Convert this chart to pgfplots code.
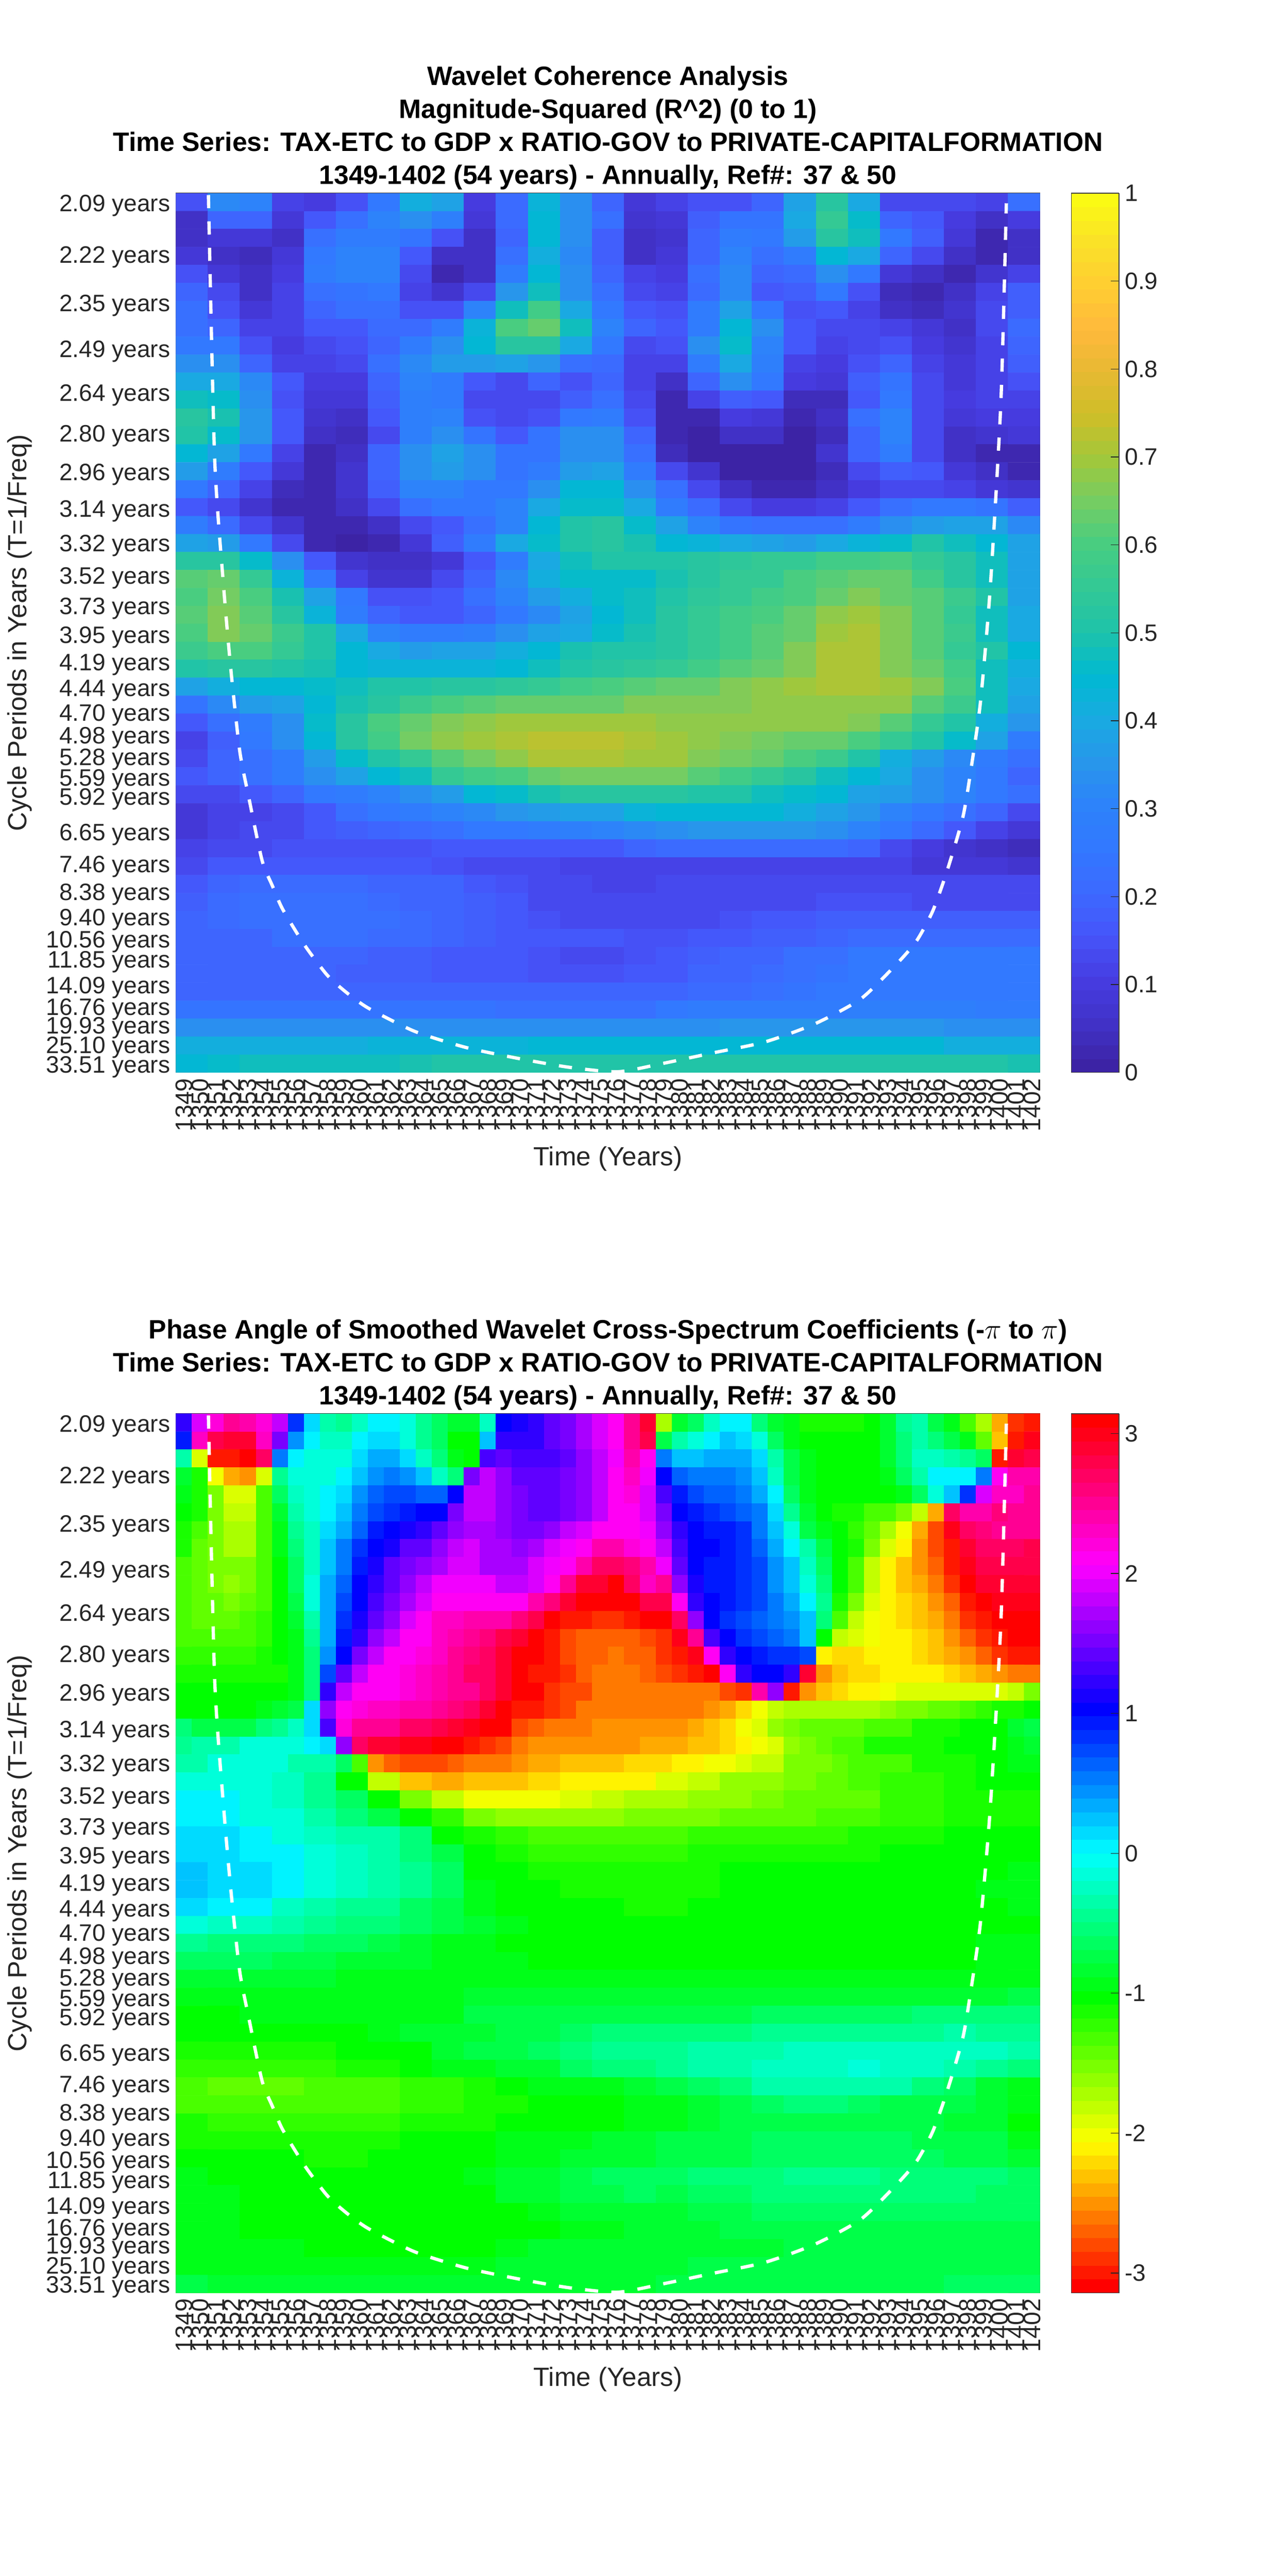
\documentclass[border=0pt]{standalone}
\usepackage{fontspec}
\setmainfont{Liberation Sans}
\usepackage{pgfplots}
\pgfplotsset{compat=1.18}
% ---- small reader: rows of plain numbers -> (x,y) [value] coordinates
\newcount\ci \newcount\cj \newcount\ncols \newcount\xa
\def\endm{END}
\def\BeginGrid#1#2#3#4{\ncols=#1 \xa=#2 \def\xs{#3}\cj=#4 \gdef\acc{}}
\def\putcell#1{\ifnum\ci<\ncols \xdef\acc{\acc(\the\numexpr\xa*\ci+1\relax\xs,\the\cj) [#1] }\fi\advance\ci by 1 }
\def\pc#1 {\def\tmp{#1}\ifx\tmp\endm\let\next\padd\else\putcell{#1}\def\last{#1}\let\next\pc\fi\next}
\def\padd{\ifnum\ci<\ncols\putcell{\last}\expandafter\padd\fi}
\def\R#1{\ci=0 \pc#1 END \advance\cj by 1 }
\def\plotgrid#1#2{\edef\tmpplot{\noexpand\addplot[matrix plot*,point meta=explicit,mesh/cols=#2,draw=mapped color,line width=0.15pt] coordinates {#1};}\tmpplot}
% ---- magnitude-squared coherence, in hundredths, 2-year cells
\BeginGrid{27}{2}{.5}{1}
\R{15 32 30 11 10 15 25 41 38 10 21 43 33 20 8 11 15 15 20 38 53 40 14 13 13 12 22}
\R{6 20 19 8 17 22 30 33 29 8 21 44 33 22 7 8 18 24 24 40 55 46 20 17 10 6 10}
\R{5 8 8 6 22 27 28 24 15 5 20 44 33 18 6 7 19 28 25 37 52 47 25 18 8 3 6}
\R{8 6 4 8 26 30 30 16 6 5 22 42 32 18 6 8 19 30 22 28 44 40 20 13 5 3 6}
\R{15 9 5 10 28 30 30 14 3 6 28 44 33 20 11 10 22 32 19 21 34 25 8 5 3 7 11}
\R{20 14 6 11 23 24 26 12 7 14 35 48 33 22 13 11 21 32 16 18 25 15 4 3 5 12 18}
\R{22 15 8 11 19 22 23 15 15 30 48 58 40 25 16 15 28 38 25 15 17 12 5 4 7 13 18}
\R{23 19 11 11 16 17 21 21 27 43 60 63 47 30 20 17 28 45 33 17 13 13 12 9 5 13 21}
\R{26 25 15 10 14 15 20 28 33 44 52 52 40 25 14 15 33 46 30 16 11 14 15 10 7 12 20}
\R{34 33 20 11 12 14 22 32 36 37 39 35 23 21 12 12 28 40 29 11 10 15 20 12 9 12 18}
\R{40 40 32 17 10 10 19 31 28 16 14 20 15 20 12 6 19 34 26 10 8 18 24 13 9 12 15}
\R{47 46 33 15 8 8 18 29 27 13 13 14 18 23 13 3 11 18 16 4 4 17 25 13 10 11 12}
\R{52 49 35 16 7 5 16 29 30 15 13 15 25 27 15 3 3 10 9 2 6 22 30 14 9 10 10}
\R{50 46 35 16 5 4 13 29 33 24 16 24 33 33 20 3 1 5 5 1 4 20 30 14 6 7 9}
\R{44 38 26 12 2 6 20 34 39 33 24 24 33 33 22 4 0 1 1 1 7 20 28 13 5 3 3}
\R{36 28 17 8 2 7 19 34 37 33 24 27 36 38 27 14 7 1 0 0 4 14 18 16 9 5 2}
\R{25 20 11 4 2 7 18 31 30 26 26 33 44 44 34 22 13 6 2 2 5 10 14 14 12 8 7}
\R{17 13 7 3 2 5 13 22 25 25 30 40 46 46 40 28 21 14 10 10 12 16 23 25 25 24 18}
\R{27 21 14 7 2 2 6 13 16 22 31 44 50 52 46 38 30 24 22 22 23 27 33 36 38 38 32}
\R{38 36 26 14 3 0 2 9 18 28 40 46 50 53 49 45 43 40 38 37 40 43 46 50 48 44 38}
\R{53 53 46 34 16 7 5 5 8 16 27 40 48 50 51 51 52 54 55 56 58 58 60 55 52 47 38}
\R{62 64 55 43 26 12 7 7 13 20 32 42 46 46 46 49 52 55 56 60 62 63 63 58 52 47 38}
\R{60 65 60 49 38 25 15 15 16 22 30 36 41 46 48 50 54 55 58 60 64 67 64 62 57 50 38}
\R{61 66 62 53 43 28 20 17 17 19 25 32 38 44 48 52 56 58 60 64 68 70 67 62 55 48 40}
\R{60 66 63 57 50 40 30 28 28 29 33 38 40 46 49 52 55 58 62 64 69 71 67 62 57 48 40}
\R{57 60 60 56 50 45 40 37 38 39 42 45 49 51 50 52 56 59 62 66 71 71 67 62 56 50 44}
\R{51 52 52 50 49 45 43 43 43 43 45 48 51 53 54 56 58 61 64 67 71 71 67 63 58 47 42}
\R{38 42 45 45 46 48 50 50 52 53 54 56 58 60 62 63 64 66 68 70 71 71 70 66 60 47 40}
\R{24 32 36 38 44 49 53 57 60 62 64 64 64 64 66 66 66 67 68 68 68 68 68 62 57 47 38}
\R{16 22 28 34 46 52 60 63 66 68 69 70 70 70 69 68 68 68 68 68 68 67 61 55 50 42 35}
\R{12 18 25 33 44 52 58 65 68 70 71 72 72 72 71 70 68 67 65 64 63 60 56 50 46 38 28}
\R{14 19 23 28 36 46 51 56 61 65 68 71 71 71 70 69 66 65 63 60 57 50 42 36 32 27 22}
\R{16 20 23 27 34 38 44 48 55 58 60 63 65 65 65 65 62 58 56 52 48 45 40 34 30 25 20}
\R{13 13 17 20 25 27 30 33 37 44 46 49 52 52 52 52 51 50 48 46 45 38 36 33 31 26 22}
\R{9 11 12 13 16 22 26 27 30 32 35 37 38 39 43 44 44 44 44 42 38 35 30 26 22 20 13}
\R{9 11 13 14 16 18 19 21 23 25 26 27 29 30 32 33 35 35 35 35 33 31 26 21 17 12 9}
\R{12 13 14 15 15 15 15 15 16 16 16 16 17 17 19 21 21 21 21 21 21 19 14 10 7 6 4}
\R{13 16 17 17 17 17 17 16 15 14 13 13 12 12 12 12 12 12 12 12 12 12 11 9 9 8 7}
\R{17 20 21 21 21 21 20 20 19 17 15 13 13 12 12 13 13 13 13 13 13 13 13 13 13 13 13}
\R{18 21 22 22 22 22 21 20 19 18 16 14 14 13 13 13 13 14 14 14 15 15 15 14 14 14 14}
\R{19 21 22 22 22 22 22 21 20 18 17 15 14 14 14 14 14 15 16 17 18 18 18 18 18 18 18}
\R{20 20 20 22 22 22 21 21 20 18 17 16 16 16 15 15 17 17 18 18 20 21 21 21 21 21 21}
\R{19 19 19 19 19 19 18 18 17 16 16 15 14 14 15 16 18 19 20 22 23 25 25 25 25 25 25}
\R{19 19 19 19 19 18 18 18 17 16 16 15 15 15 17 17 19 20 21 22 24 25 25 25 25 25 25}
\R{20 20 20 20 20 20 20 20 20 19 19 19 19 19 19 20 21 21 22 24 25 25 25 25 25 25 25}
\R{24 24 24 24 24 24 24 24 24 24 23 22 22 22 23 25 27 27 27 28 28 29 29 29 29 28 27}
\R{34 34 34 34 34 34 34 34 34 34 34 34 34 34 34 34 34 35 35 35 35 35 35 35 34 34 33}
\R{41 41 41 41 41 42 43 43 43 43 43 44 45 45 44 44 44 44 44 44 44 44 44 44 42 42 41}
\R{45 46 47 47 47 47 48 49 50 50 50 50 50 50 50 50 50 50 50 51 51 51 51 51 51 50 49}
\let\coh\acc
% ---- phase angle, in tenths of a radian: rows 1-20 per year
\BeginGrid{54}{1}{}{1}
\R{12 19 22 25 24 22 18 8 1 -3 -4 -2 0 0 -1 -4 -6 -8 -8 -2 10 11 12 14 15 17 19 21 25 29 -17 -8 -6 -2 0 0 -5 -8 -9 -11 -11 -11 -11 -10 -8 -4 -3 -7 -9 -13 -17 -24 -29 -30}
\R{9 23 28 29 29 23 15 4 0 -2 -2 0 1 1 -1 -4 -6 -10 -10 2 12 12 12 14 15 17 19 21 25 28 -7 -3 -1 0 2 1 -1 -6 -9 -10 -10 -10 -10 -10 -8 -5 -3 -5 -7 -9 -14 -23 -30 30}
\R{-3 -19 -30 -30 31 27 5 0 -1 -1 -1 1 3 3 1 -2 -5 -9 -10 13 14 13 13 13 14 16 18 20 24 21 5 2 2 3 3 3 1 -3 -7 -9 -10 -10 -10 -10 -8 -5 -2 -2 -3 -4 -6 -30 29 28}
\R{-8 -11 -20 -24 -25 -19 -4 -1 -1 -1 0 2 4 5 4 2 -2 -5 15 18 16 14 14 14 15 16 18 21 23 20 10 6 5 5 5 4 2 -2 -7 -9 -10 -10 -10 -10 -9 -6 -3 0 0 0 5 21 24 24}
\R{-9 -11 -15 -19 -19 -13 -6 -2 -1 0 1 4 6 7 7 6 6 10 18 18 16 15 14 14 15 16 18 21 22 19 13 9 7 6 6 5 3 0 -6 -9 -10 -10 -10 -10 -10 -9 -6 -1 2 8 19 23 23 25}
\R{-10 -11 -15 -18 -18 -13 -8 -3 -1 0 2 5 7 8 9 10 10 15 18 18 16 15 14 14 15 16 18 21 21 19 15 10 9 8 7 6 5 1 -4 -8 -10 -11 -11 -13 -13 -15 -18 -24 27 24 24 26 25 25}
\R{-11 -13 -15 -17 -17 -13 -9 -4 -2 1 3 6 9 10 11 12 14 16 17 17 16 15 15 16 18 19 21 21 21 20 16 12 10 9 9 8 5 2 -1 -7 -9 -10 -12 -14 -17 -20 -24 -28 30 27 26 25 25 25}
\R{-11 -14 -15 -17 -17 -13 -9 -5 -2 2 5 8 10 11 14 14 16 18 19 17 17 16 17 19 20 21 24 24 22 21 18 13 10 10 9 8 6 3 0 -3 -7 -10 -11 -15 -19 -21 -25 -28 -30 29 27 27 27 28}
\R{-13 -14 -15 -15 -15 -13 -10 -6 -2 2 5 9 11 14 15 16 17 19 19 17 17 17 19 20 21 24 27 27 26 24 20 14 10 9 9 8 7 4 2 -2 -6 -10 -13 -18 -21 -23 -25 -27 -30 30 28 28 28 28}
\R{-13 -14 -15 -16 -15 -13 -10 -6 -1 3 6 10 12 14 16 18 20 20 20 20 18 18 19 21 25 29 29 31 27 23 25 16 11 9 9 8 7 4 2 -1 -5 -10 -13 -18 -21 -23 -24 -26 -29 -31 29 29 29 29}
\R{-13 -14 -14 -15 -14 -13 -10 -7 -1 3 7 10 13 15 17 19 21 21 21 21 21 21 24 26 29 31 31 31 31 28 28 21 12 10 9 8 7 5 3 0 -4 -11 -15 -19 -21 -22 -23 -25 -27 -30 -31 30 30 30}
\R{-13 -14 -14 -14 -13 -12 -10 -8 -3 3 8 11 14 16 19 21 23 23 24 24 24 26 28 31 -30 -30 -29 -29 -30 -31 -31 27 16 10 8 7 6 5 4 2 -5 -13 -18 -20 -21 -22 -23 -24 -26 -29 -30 -31 31 31}
\R{-13 -13 -13 -13 -13 -12 -10 -9 -4 3 9 12 16 18 21 21 23 24 25 26 28 29 -31 -30 -28 -27 -27 -27 -27 -28 -29 30 25 13 10 8 7 6 5 2 -10 -18 -19 -20 -21 -21 -22 -23 -25 -27 -29 -30 -31 -31}
\R{-12 -12 -12 -12 -12 -11 -10 -9 -5 4 10 15 18 21 21 22 23 25 26 27 29 31 -31 -30 -28 -27 -27 -26 -27 -27 -29 -30 30 21 12 10 9 8 8 7 -21 -22 -22 -21 -21 -21 -22 -23 -24 -25 -27 -29 -30 -30}
\R{-11 -11 -11 -11 -11 -11 -11 -9 -5 7 14 18 21 21 22 23 24 25 27 27 29 -31 -30 -30 -29 -27 -26 -26 -26 -27 -28 -29 -30 -31 21 12 10 10 12 29 -25 -23 -22 -22 -21 -21 -21 -21 -22 -23 -24 -25 -26 -26}
\R{-10 -10 -10 -10 -10 -10 -10 -9 -5 12 18 21 21 21 22 23 24 25 25 27 29 -31 -31 -29 -28 -28 -26 -26 -26 -26 -26 -26 -26 -26 -28 -29 24 16 -30 -25 -23 -22 -21 -21 -20 -19 -19 -19 -19 -19 -19 -19 -18 -15}
\R{-10 -10 -10 -10 -10 -9 -8 -7 1 16 21 22 23 23 24 24 25 26 27 29 31 -30 -30 -29 -28 -26 -26 -26 -26 -26 -26 -26 -26 -25 -24 -22 -20 -18 -17 -17 -17 -17 -17 -17 -16 -15 -15 -14 -14 -13 -12 -11 -11 -10}
\R{-5 -7 -7 -7 -7 -5 -4 -2 1 13 22 25 25 25 27 27 28 29 30 -31 -31 -28 -27 -26 -26 -26 -25 -25 -25 -25 -25 -25 -24 -23 -22 -20 -19 -16 -15 -14 -14 -14 -14 -13 -13 -13 -11 -11 -11 -10 -10 -10 -8 -7}
\R{-4 -3 -3 -3 -1 -1 -1 -1 0 1 16 27 29 29 30 30 31 -31 -30 -29 -28 -26 -25 -25 -25 -25 -25 -25 -25 -24 -24 -24 -23 -23 -22 -21 -20 -19 -16 -15 -14 -13 -13 -11 -11 -11 -11 -11 -10 -10 -10 -10 -9 -8}
\R{-3 -3 -1 -1 -1 -1 -1 -3 -3 -3 -6 -13 -25 -27 -28 -28 -28 -27 -26 -26 -26 -25 -24 -24 -23 -23 -23 -23 -22 -22 -22 -21 -21 -20 -20 -19 -18 -18 -15 -15 -15 -14 -13 -13 -13 -13 -11 -11 -11 -11 -10 -10 -9 -9}
\let\phup\acc
% ---- phase angle, rows 21-49, 2-year cells
\BeginGrid{27}{2}{.5}{21}
\R{-1 -1 -1 -2 -4 -10 -18 -23 -24 -23 -23 -22 -21 -21 -21 -19 -18 -16 -16 -15 -14 -13 -12 -12 -11 -10 -10}
\R{0 0 -1 -2 -4 -6 -10 -15 -18 -20 -20 -20 -19 -18 -17 -17 -16 -16 -15 -14 -14 -14 -12 -12 -11 -11 -11}
\R{0 0 -1 -1 -3 -5 -7 -10 -12 -15 -16 -16 -16 -16 -15 -15 -15 -14 -14 -14 -13 -13 -12 -12 -11 -11 -11}
\R{1 1 0 -1 -2 -3 -3 -5 -10 -11 -12 -13 -13 -13 -13 -13 -12 -12 -12 -12 -12 -11 -11 -11 -10 -10 -10}
\R{1 1 0 0 -1 -2 -3 -5 -7 -10 -11 -12 -12 -12 -12 -12 -11 -11 -11 -11 -11 -11 -10 -10 -10 -10 -10}
\R{2 1 1 0 -1 -2 -3 -4 -6 -10 -10 -11 -11 -11 -11 -11 -11 -10 -10 -10 -10 -10 -10 -10 -10 -10 -9}
\R{2 1 1 0 -1 -2 -3 -4 -6 -9 -10 -10 -11 -11 -11 -11 -11 -10 -10 -10 -10 -10 -10 -10 -10 -9 -9}
\R{1 0 0 -2 -3 -4 -4 -6 -7 -9 -10 -10 -10 -10 -11 -11 -10 -10 -10 -10 -10 -10 -10 -10 -10 -10 -9}
\R{-1 -2 -2 -3 -4 -5 -5 -6 -7 -8 -9 -10 -10 -10 -10 -10 -10 -10 -10 -10 -10 -10 -10 -10 -10 -10 -10}
\R{-4 -5 -5 -5 -6 -6 -7 -8 -9 -9 -10 -10 -10 -10 -10 -10 -10 -10 -10 -10 -10 -10 -10 -10 -10 -9 -9}
\R{-6 -6 -6 -7 -7 -8 -8 -8 -9 -9 -9 -10 -10 -10 -10 -10 -10 -10 -10 -10 -10 -10 -10 -10 -10 -9 -9}
\R{-8 -8 -8 -8 -8 -9 -9 -9 -9 -9 -9 -9 -9 -9 -9 -9 -9 -9 -9 -9 -9 -9 -9 -9 -9 -9 -9}
\R{-9 -9 -9 -9 -9 -9 -9 -9 -9 -8 -8 -8 -8 -8 -8 -8 -8 -8 -8 -8 -8 -8 -8 -8 -8 -8 -7}
\R{-10 -10 -9 -9 -9 -9 -9 -9 -9 -7 -7 -7 -7 -7 -7 -7 -7 -7 -6 -6 -6 -6 -6 -5 -5 -5 -5}
\R{-10 -10 -10 -10 -10 -10 -9 -8 -8 -8 -7 -7 -6 -5 -5 -5 -5 -5 -4 -4 -4 -4 -4 -4 -3 -4 -4}
\R{-11 -11 -11 -11 -11 -10 -10 -10 -8 -7 -7 -6 -5 -4 -4 -4 -3 -3 -3 -2 -2 -2 -2 -2 -2 -2 -3}
\R{-12 -12 -12 -12 -12 -11 -11 -10 -9 -9 -8 -8 -6 -5 -5 -4 -3 -3 -2 -2 -2 -1 -2 -2 -3 -4 -5}
\R{-13 -14 -14 -14 -13 -13 -13 -12 -12 -11 -10 -9 -9 -9 -8 -7 -6 -5 -3 -3 -3 -3 -3 -5 -6 -8 -9}
\R{-13 -13 -13 -13 -13 -13 -13 -12 -12 -11 -11 -10 -10 -10 -9 -9 -8 -7 -6 -5 -5 -6 -7 -7 -7 -8 -9}
\R{-11 -12 -12 -12 -12 -12 -12 -11 -11 -11 -10 -10 -10 -10 -9 -9 -8 -7 -7 -7 -7 -7 -7 -7 -8 -8 -10}
\R{-11 -11 -11 -11 -11 -11 -11 -10 -10 -10 -9 -9 -9 -8 -8 -7 -7 -7 -6 -6 -6 -6 -6 -7 -7 -7 -9}
\R{-10 -10 -10 -10 -11 -11 -10 -10 -10 -10 -9 -9 -8 -8 -8 -7 -7 -7 -6 -6 -6 -6 -6 -6 -7 -7 -8}
\R{-9 -10 -10 -10 -10 -10 -10 -10 -10 -9 -8 -8 -7 -6 -6 -6 -5 -5 -5 -4 -4 -4 -5 -5 -5 -5 -6}
\R{-9 -9 -10 -10 -10 -10 -10 -10 -10 -10 -8 -8 -7 -7 -6 -7 -6 -6 -5 -5 -5 -5 -5 -5 -5 -6 -6}
\R{-9 -9 -10 -10 -10 -10 -10 -10 -10 -10 -10 -9 -8 -8 -8 -8 -7 -7 -6 -6 -6 -6 -6 -6 -6 -6 -6}
\R{-9 -9 -10 -10 -10 -10 -10 -10 -10 -10 -10 -10 -9 -9 -8 -8 -8 -7 -7 -7 -7 -7 -7 -7 -7 -7 -7}
\R{-9 -9 -9 -9 -10 -10 -10 -10 -10 -10 -9 -8 -8 -8 -8 -8 -8 -8 -8 -7 -7 -7 -7 -7 -7 -7 -7}
\R{-9 -9 -9 -9 -9 -9 -9 -9 -9 -9 -8 -8 -8 -8 -8 -8 -7 -7 -7 -7 -7 -7 -7 -7 -7 -7 -7}
\R{-7 -8 -8 -8 -8 -8 -8 -8 -8 -8 -8 -8 -8 -8 -8 -7 -7 -7 -7 -7 -7 -7 -7 -7 -6 -6 -6}
\let\phlo\acc
% ---- colour maps
\pgfplotsset{
 colormap={cohbase}{rgb255=(60,35,165) rgb255=(65,50,200) rgb255=(70,60,225) rgb255=(70,85,250) rgb255=(60,105,255) rgb255=(50,120,255) rgb255=(45,130,250) rgb255=(40,150,235) rgb255=(25,170,225) rgb255=(0,185,210) rgb255=(30,195,170) rgb255=(50,200,150) rgb255=(70,205,130) rgb255=(115,205,100) rgb255=(160,200,60) rgb255=(205,190,40) rgb255=(230,185,50) rgb255=(255,185,60) rgb255=(255,205,50) rgb255=(250,225,40) rgb255=(250,250,20)},
 colormap={coh64}{samples of colormap=(64 of cohbase)},
 colormap={phbase}{rgb255=(255,0,0) rgb255=(255,255,0) rgb255=(0,255,0) rgb255=(0,255,255) rgb255=(0,0,255) rgb255=(255,0,255) rgb255=(255,0,0)},
 colormap={ph64}{samples of colormap=(64 of phbase)},
 panel/.style={
  scale only axis, width=524.25pt, height=533.5pt, anchor=south west,
  xmin=0.5, xmax=54.5, ymin=0.5, ymax=49.5, y dir=reverse,
  axis line style={color=black!75, line width=0.4pt},
  tick align=inside, major tick length=5pt, tick style={color=black!85, line width=0.4pt},
  xtick={1,...,54},
  xticklabels={1349,1350,1351,1352,1353,1354,1355,1356,1357,1358,1359,1360,1361,1362,1363,1364,1365,1366,1367,1368,1369,1370,1371,1372,1373,1374,1375,1376,1377,1378,1379,1380,1381,1382,1383,1384,1385,1386,1387,1388,1389,1390,1391,1392,1393,1394,1395,1396,1397,1398,1399,1400,1401,1402},
  xticklabel style={rotate=90, anchor=east, font=\fontsize{14.6}{15}\selectfont, text=black!85},
  ytick={1,3.874,6.586,9.146,11.563,13.843,15.996,18.028,19.946,21.756,23.465,25.078,26.6,28.037,29.393,30.673,31.881,33.022,34.098,35.114,36.073,36.978,37.833,38.639,39.4,40.118,40.797,41.437,42.040,42.611,43.149,43.657,44.137,44.589,45.016,45.420,45.8,46.159,46.498,46.818,47.120,47.406,47.674,47.928,48.168,48.394,48.608,48.810,49},
  yticklabels={2.09 years,2.22 years,2.35 years,2.49 years,2.64 years,2.80 years,2.96 years,3.14 years,3.32 years,3.52 years,3.73 years,3.95 years,4.19 years,4.44 years,4.70 years,4.98 years,5.28 years,5.59 years,5.92 years,{},6.65 years,{},7.46 years,{},8.38 years,{},9.40 years,{},10.56 years,{},11.85 years,{},{},14.09 years,{},{},16.76 years,{},{},19.93 years,{},{},{},25.10 years,{},{},{},{},33.51 years},
  yticklabel style={font=\fontsize{14.4}{15}\selectfont, text=black!85, yshift=-2pt},
  xlabel={Time (Years)}, ylabel={Cycle Periods in Years (T=1/Freq)},
  every axis x label/.style={at={(axis description cs:0.5,-0.098)}, anchor=center, font=\fontsize{16}{18}\selectfont, text=black!85},
  every axis y label/.style={at={(axis description cs:-0.181,0.5)}, anchor=center, rotate=90, font=\fontsize{16}{18}\selectfont, text=black!85},
  title style={at={(axis description cs:0.5,1)}, anchor=south, align=center, yshift=-7.5pt, font=\fontsize{16.15}{20}\bfseries\selectfont},
  colormap access=piecewise constant,
  colorbar sampled,
 },
 cbar/.style={
  at={(1.03624,1)}, anchor=north west, width=29pt, samples=65,
  axis line style={color=black!75, line width=0.4pt},
  tick align=inside, major tick length=5pt, ytick pos=right, yticklabel pos=right,
  tick style={color=black!85, line width=0.4pt},
  yticklabel style={font=\fontsize{14.4}{15}\selectfont, text=black!85},
 },
 coi/.style={white, line width=2pt, dash pattern=on 8pt off 8pt, smooth, tension=0.4},
}
\def\coicurve{\addplot[coi] coordinates {(2.53,0.6) (2.92,15.3) (3.49,22.54) (3.95,27.2) (4.49,31.6) (5.03,34.07) (5.88,37.67) (6.53,39.1) (7.17,40.4) (8.54,42.4) (9.93,44.05) (11.1,45) (12.5,45.9) (15.4,47.2) (18.6,48.1) (21.8,48.7) (25,49.2) (28.1,49.46) (30.9,49) (34.1,48.4) (37.3,47.8) (40.4,46.8) (43.3,45.4) (45.6,43.4) (46.8,42.15) (47.8,40.5) (48.7,38.25) (49.7,35.2) (50.3,31.95) (50.8,28.7) (51.4,22.4) (52.06,12.1) (52.4,1.06)};}
\begin{document}
\begin{tikzpicture}
\useasboundingbox (0,0) rectangle (781.25pt,1563pt);
\begin{axis}[panel, at={(106.75pt,912.25pt)},
  title={Wavelet Coherence Analysis\\Magnitude-Squared (R\^{}2) (0 to 1)\\Time Series: TAX-ETC to GDP x RATIO-GOV to PRIVATE-CAPITALFORMATION\\1349-1402 (54 years) - Annually, Ref\#: 37 \& 50},
  colormap name=coh64, point meta min=0, point meta max=100,
  colorbar style={cbar, ytick={0,10,20,30,40,50,60,70,80,90,100}, yticklabels={0,0.1,0.2,0.3,0.4,0.5,0.6,0.7,0.8,0.9,1}}]
\plotgrid{\coh}{27}
\coicurve
\end{axis}
\begin{axis}[panel, at={(106.75pt,171.75pt)},
  title={Phase Angle of Smoothed Wavelet Cross-Spectrum Coefficients (-$\pi$ to $\pi$)\\Time Series: TAX-ETC to GDP x RATIO-GOV to PRIVATE-CAPITALFORMATION\\1349-1402 (54 years) - Annually, Ref\#: 37 \& 50},
  colormap name=ph64, point meta min=-31.416, point meta max=31.416,
  colorbar style={cbar, ytick={-30,-20,-10,0,10,20,30}, yticklabels={-3,-2,-1,0,1,2,3}}]
\plotgrid{\phup}{54}
\plotgrid{\phlo}{27}
\coicurve
\end{axis}
\end{tikzpicture}
\end{document}
